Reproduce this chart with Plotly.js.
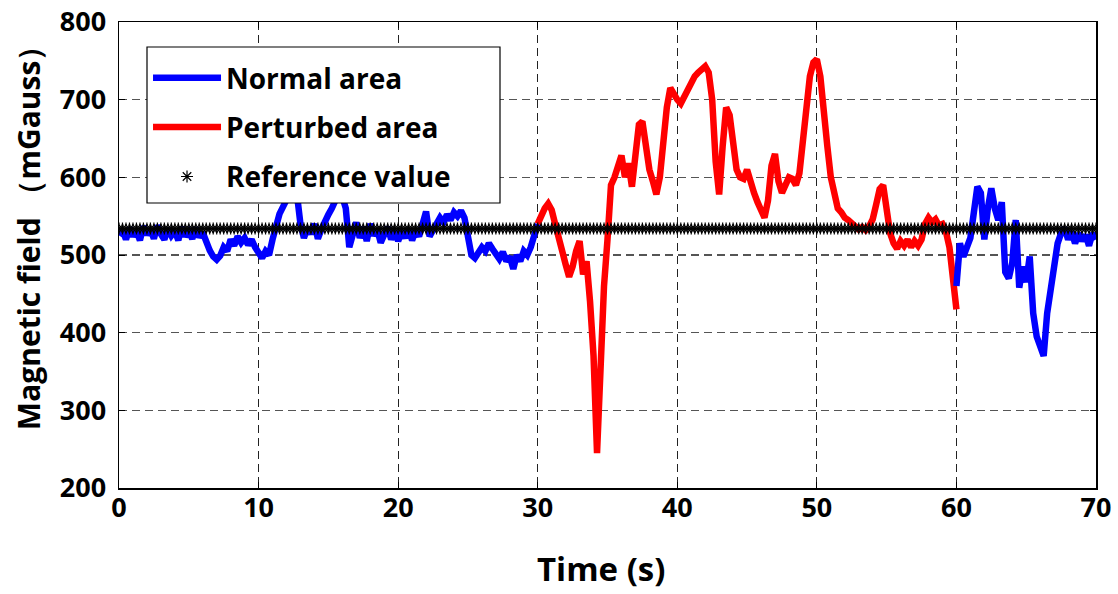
<!DOCTYPE html>
<html>
<head>
<meta charset="utf-8">
<script src="https://cdn.plot.ly/plotly-3.0.1.min.js"></script>
<style>html,body{margin:0;padding:0;background:#fff;}#chart{width:1118px;height:594px;}</style>
</head>
<body>
<div id="chart"></div>
<script>
// ---- data ----
const timeStep = 0.25;
const normalStart1 = 0;           // s
const perturbedStart = 30;        // s
const normalStart2 = 60;          // s
const referenceValue = 534;       // mGauss

const normalValues1 = [
  525,532,520,535, 524,531,519,537, 526,533,521,538, 527,520,534,525,
  531,519,536,524, 530,521,535,523, 529,515,506,498, 494,499,510,505,
  520,512,524,516, 522,513,520,510, 502,496,505,500, 520,540,553,562,
  572,580,586,578, 540,522,535,527, 540,521,533,545, 552,560,572,580,
  575,560,510,528, 542,522,536,518, 540,525,533,516, 528,536,520,531,
  518,530,522,534, 519,531,524,540, 556,524,532,540, 548,542,552,545,
  555,550,557,548, 520,500,496,502, 510,505,515,508, 500,495,504,492,
  498,482,500,492, 505,500,510,525, 540
];
const perturbedValues = [
  540,552,560,566, 558,540,520,500, 488,472,485,505, 518,475,492,440,
  370,245,385,460, 520,590,600,615, 628,600,618,588, 640,668,672,640,
  610,595,578,600, 648,690,715,705, 700,695,705,715, 722,730,735,740,
  743,735,700,620, 578,640,690,680, 640,610,600,598, 610,592,580,568,
  555,548,570,615, 630,595,580,590, 600,598,590,605, 650,690,730,748,
  752,730,675,640, 600,575,560,555, 548,545,540,538, 533,536,532,537,
  546,565,585,590, 560,528,515,508, 518,512,520,510, 518,512,520,540,
  548,542,546,538, 540,530,510,465, 430
];
const normalValues2 = [
  460,515,498,512, 522,555,588,580, 520,560,586,560, 545,568,478,470,
  490,545,458,485, 465,498,425,395, 380,370,425,455, 480,515,528,535,
  520,530,515,528, 518,526,512,528, 520
];
const xTickVals = [0,10,20,30,40,50,60,70];
const yTickVals = [200,300,400,500,600,700,800];
const seriesNames = ['Normal area','Perturbed area','Reference value'];

function timesFor(start, n){ const t=[]; for(let i=0;i<n;i++) t.push(+(start+i*timeStep).toFixed(2)); return t; }
const normalTime1 = timesFor(normalStart1, normalValues1.length);
const perturbedTime = timesFor(perturbedStart, perturbedValues.length);
const normalTime2 = timesFor(normalStart2, normalValues2.length);
const referenceTime = Array.from(new Set(normalTime1.concat(perturbedTime, normalTime2)));
const referenceValues = referenceTime.map(() => referenceValue);

const FONT = 'Open Sans, DejaVu Sans, sans-serif';
const lineW = 6.5;

const traces = [
  {x: normalTime1, y: normalValues1, type:'scatter', mode:'lines', name: seriesNames[0],
   legendgroup:'g1', line:{color:'#0000FF', width:lineW}},
  {x: perturbedTime, y: perturbedValues, type:'scatter', mode:'lines', name: seriesNames[1],
   legendgroup:'g2', line:{color:'#FF0000', width:lineW}},
  {x: normalTime2, y: normalValues2, type:'scatter', mode:'lines', name: seriesNames[0],
   legendgroup:'g1', showlegend:false, line:{color:'#0000FF', width:lineW}},
  {x: referenceTime, y: referenceValues, type:'scatter', mode:'markers', name: seriesNames[2],
   legendgroup:'g3', marker:{symbol:'asterisk-open', size:10, color:'#000', line:{color:'#000', width:1.2}}}
];

const layout = {
  width:1118, height:594,
  margin:{l:119, r:22, t:22, b:106},
  paper_bgcolor:'#fff', plot_bgcolor:'#fff',
  font:{family:FONT, color:'#000'},
  showlegend:true,
  legend:{
    x:0.0297, y:0.9335, xanchor:'left', yanchor:'top',
    bgcolor:'rgba(0,0,0,0)', borderwidth:0,
    font:{family:FONT, size:28, weight:'bold', color:'#000'},
    itemwidth:68, tracegroupgap:10, traceorder:'grouped'
  },
  // legend frame (MATLAB-style box, wider than its entries)
  shapes:[{
    type:'rect', xref:'paper', yref:'paper', layer:'above',
    x0:0.02866, x1:0.38997, y0:0.6116, y1:0.9464,
    fillcolor:'#fff', line:{color:'#000', width:1.2}
  }],
  xaxis:{
    range:[0,70], tickvals:xTickVals, ticktext:xTickVals.map(String),
    showgrid:true, gridcolor:'#222', griddash:'8px,5px', gridwidth:1.2,
    zeroline:false, showline:true, mirror:'ticks', linecolor:'#000', linewidth:1.5,
    ticks:'inside', ticklen:6, tickcolor:'#000', tickwidth:1,
    tickfont:{family:FONT, size:27, weight:'bold', color:'#000'},
    ticklabelstandoff:-5
  },
  yaxis:{
    range:[200,800], tickvals:yTickVals, ticktext:yTickVals.map(String),
    showgrid:true, gridcolor:'#555', griddash:'8px,5px', gridwidth:1.2,
    zeroline:false, showline:true, mirror:'ticks', linecolor:'#000', linewidth:1.5,
    ticks:'inside', ticklen:6, tickcolor:'#000', tickwidth:1,
    tickfont:{family:FONT, size:27, weight:'bold', color:'#000'},
    ticklabelstandoff:6
  },
  annotations:[{
    text:'Magnetic field （mGauss）', textangle:-90,
    xref:'paper', yref:'paper', x:-0.093, y:0.5515, xanchor:'center', yanchor:'middle',
    showarrow:false, font:{family:FONT, size:30, weight:'bold', color:'#000'}
  },{
    text:'Time (s)',
    xref:'paper', yref:'paper', x:0.4933, y:-0.2253, xanchor:'center', yanchor:'bottom',
    showarrow:false, font:{family:FONT, size:33, weight:'bold', color:'#000'}
  }]
};

Plotly.newPlot('chart', traces, layout, {staticPlot:true, displayModeBar:false});
</script>
</body>
</html>
